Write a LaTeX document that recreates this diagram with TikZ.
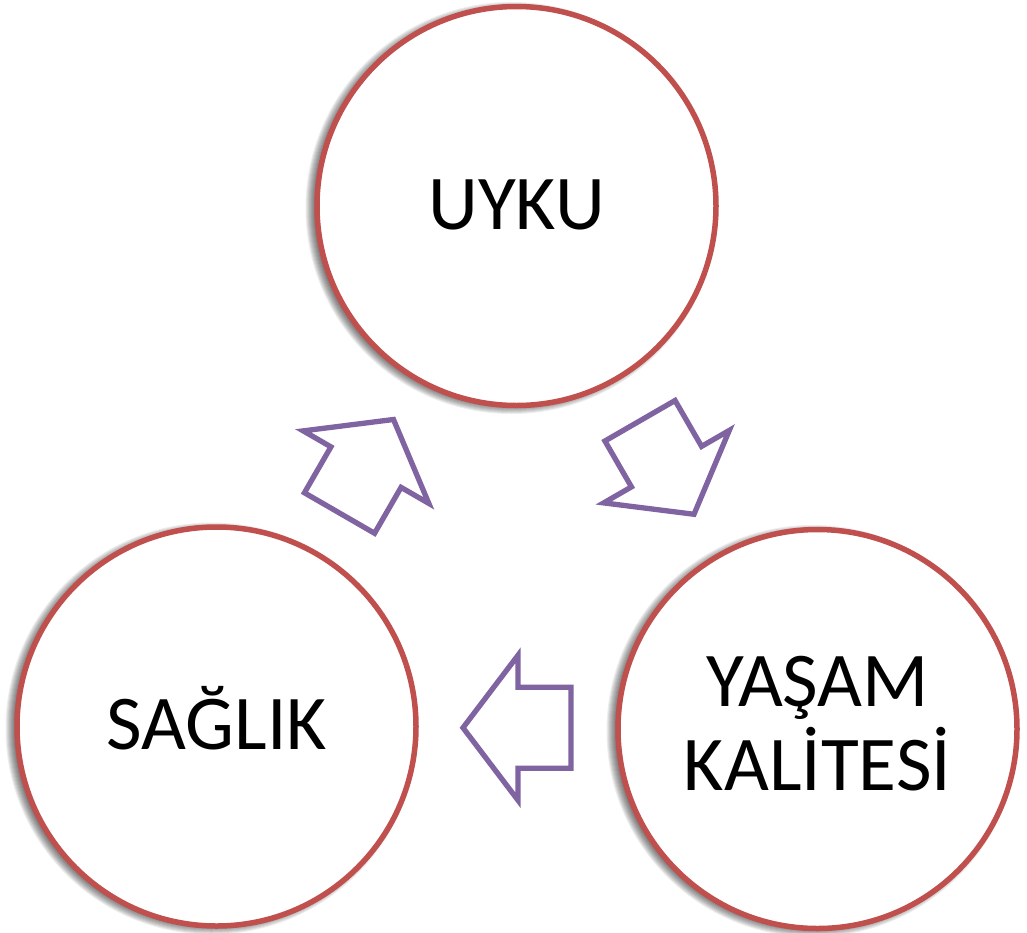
\documentclass[tikz,border=0pt]{standalone}
\usepackage{fontspec}
\setmainfont{Carlito}
\usetikzlibrary{calc,backgrounds}
\definecolor{ringred}{HTML}{C0504D}
\definecolor{flowpurple}{HTML}{8064A2}
\tikzset{
  ring/.style={circle,draw=ringred,line width=5.5pt,fill=white,minimum size=399pt,inner sep=0pt,
    font=\fontsize{77.5}{84}\selectfont,align=center,text height=49pt},
  flow/.pic={\draw[flowpurple,line width=5.3pt,fill=white,line join=miter]
    (54,0) -- (-1,72.5) -- (-1,40.5) -- (-54,40.5) -- (-54,-40.5) -- (-1,-40.5) -- (-1,-72.5) -- cycle;}
}
\begin{document}
\begin{tikzpicture}[x=1pt,y=-1pt]
    \useasboundingbox (0,0) rectangle (1027,932);
    \node[ring,text depth=3pt] (uyku) at (516.5,206) {UYKU};
    \node[ring,text depth=4pt] (saglik) at (216.5,726.5) {SAĞLIK};
    \node[ring,text height=133pt,text depth=10pt] (yasam) at (817.5,729) {YAŞAM\\KALİTESİ};
    % soft shadow behind the rings
    \begin{scope}[on background layer]
      \foreach \n in {uyku,saglik,yasam}{%
        \foreach \k in {1,...,10}{%
          \fill[black,opacity=.07] ([xshift=-5pt,yshift=-2pt]\n.center) circle[radius=196pt+\k pt];
        }
      }
    \end{scope}
    % the three block arrows
    \pic[rotate=60] at ($(saglik)!0.5!(uyku)$) {flow};
    \pic[rotate=-60] at ($(uyku)!0.5!(yasam)$) {flow};
    \pic[rotate=180] at ($(yasam)!0.5!(saglik)$) {flow};
\end{tikzpicture}
\end{document}
